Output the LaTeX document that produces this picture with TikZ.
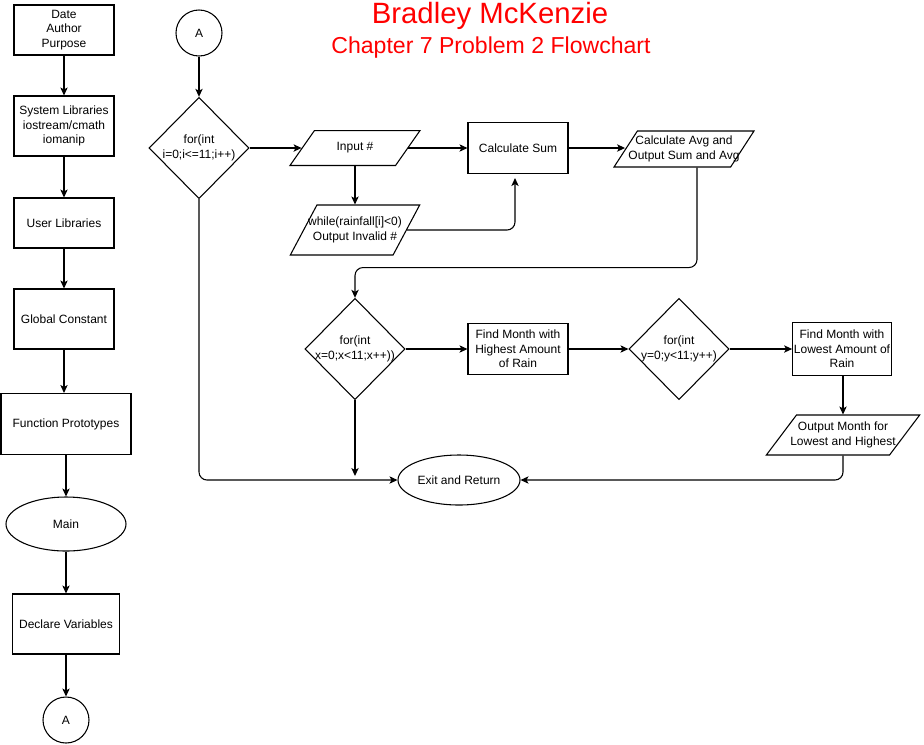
\documentclass[tikz,border=0pt]{standalone}
\usepackage{fontspec}
\setmainfont{Liberation Sans}
\usetikzlibrary{shapes.geometric,arrows.meta}
\newcommand{\zw}[1]{\makebox[0pt]{#1}}
\newcommand{\zt}[1]{\makebox[0pt]{\raisebox{-0.25em}[0pt][0pt]{\begin{tabular}[c]{@{}c@{}}#1\end{tabular}}}}

\begin{document}
\begin{tikzpicture}[x=0.75pt,y=-0.75pt,line width=0.8pt,>={Stealth[length=6pt,width=5.5pt,inset=1.5pt]},
  every node/.style={font=\fontsize{9}{11}\selectfont},
  box/.style={rectangle,draw,align=center,inner sep=1pt,minimum width=75pt,minimum height=38pt},
  io/.style={trapezium,draw,inner xsep=0pt,trapezium stretches body=true,
    trapezium left angle=55,trapezium right angle=125},
  dec/.style={diamond,draw,align=center,inner sep=0pt,minimum width=75pt,minimum height=76pt},
  term/.style={ellipse,draw,inner sep=0pt},
  conn/.style={circle,draw,minimum size=34.5pt,inner sep=0pt}]
\useasboundingbox (0,0) rectangle (924,744);

\path (490,16) node[text=red,font=\fontsize{22}{24}\selectfont] (title) {Bradley McKenzie};
\path (491,48) node[text=red,font=\fontsize{17.3}{20}\selectfont] (subtitle) {Chapter 7 Problem 2 Flowchart};

\path (64,30) node[box,minimum height=37.5pt] (info) {Date\\Author\\Purpose};
\path (64,126) node[box,minimum height=45pt] (syslib) {System Libraries\\iostream/cmath\\iomanip};
\path (64,223) node[box,minimum height=37.5pt] (userlib) {User Libraries};
\path (64,319) node[box,minimum height=45pt] (global) {Global Constant};
\path (66,424) node[box,minimum width=97.5pt,minimum height=45.75pt] (proto) {Function Prototypes};
\path (66,524) node[term,minimum width=90pt,minimum height=40.5pt] (main) {Main};
\path (66,624) node[box,minimum width=80.25pt,minimum height=45pt] (declare) {Declare Variables};
\path (66,720) node[conn] (Abot) {A};

\draw[->] (info) -- (syslib);
\draw[->] (syslib) -- (userlib);
\draw[->] (userlib) -- (global);
\draw[->] (global.south) -- (global.south |- proto.north);
\draw[->] (proto) -- (main);
\draw[->] (main) -- (declare);
\draw[->] (declare) -- (Abot);

\path (199,33) node[conn] (Atop) {A};
\path (199,148) node[dec] (loopi) {\zw{for(int}\\\zw{i=0;i<=11;i++)}};
\draw[->] (Atop) -- (loopi);

\path (355,148) node[io,inner ysep=13.1pt,minimum width=97.5pt] (input) {\zt{Input \#}};
\path (518,148) node[box,minimum height=38.25pt] (sum) {Calculate Sum};
\path (684,149) node[io,trapezium left angle=57,trapezium right angle=123,
  inner ysep=13.5pt,minimum width=105pt] (avg) {\zt{Calculate Avg and\\Output Sum and Avg}};
\path (355,230) node[io,trapezium left angle=62,trapezium right angle=118,
  inner ysep=18.75pt,minimum width=97pt] (check) {\zt{while(rainfall[i]<0)\\Output Invalid \#}};

\draw[->] (loopi) -- (input);
\draw[->] (input) -- (sum);
\draw[->] (sum.east) -- (sum.east -| avg.west);
\draw[->] (input) -- (check);
\draw[->,rounded corners=6pt] (check.east) -| ([xshift=-2.25pt,yshift=-3pt]sum.south);

\path (355,349) node[dec] (loopx) {\zw{for(int}\\\zw{x=0;x<11;x++))}};
\path (518,349) node[box,minimum height=38.25pt] (high) {Find Month with\\Highest Amount\\of Rain};
\path (679,349) node[dec] (loopy) {\zw{for(int}\\\zw{y=0;y<11;y++)}};
\path (842,349) node[box,minimum width=72.75pt,minimum height=39.75pt] (low) {Find Month with\\Lowest Amount of\\Rain};
\path (843,435) node[io,trapezium left angle=53,trapezium right angle=127,
  inner ysep=15pt,minimum width=115pt] (output) {\zt{Output Month for\\Lowest and Highest}};
\path (459,480) node[term,minimum width=91.5pt,minimum height=37.5pt] (exit) {Exit and Return};

\draw[->,rounded corners=6pt] ([xshift=9.75pt]avg.south) -- ++(0,100) -| (loopx.north);
\draw[->] (loopx) -- (high);
\draw[->] (high) -- (loopy);
\draw[->] (loopy) -- (low);
\draw[->] (low.south -| output.north) -- (output.north);
\draw[->,shorten >=3pt] (loopx.south) -- (loopx.south |- exit.west);
\draw[->,rounded corners=6pt] (loopi.south) |- (exit.west);
\draw[->,rounded corners=6pt] (output.south) |- (exit.east);
\end{tikzpicture}
\end{document}
